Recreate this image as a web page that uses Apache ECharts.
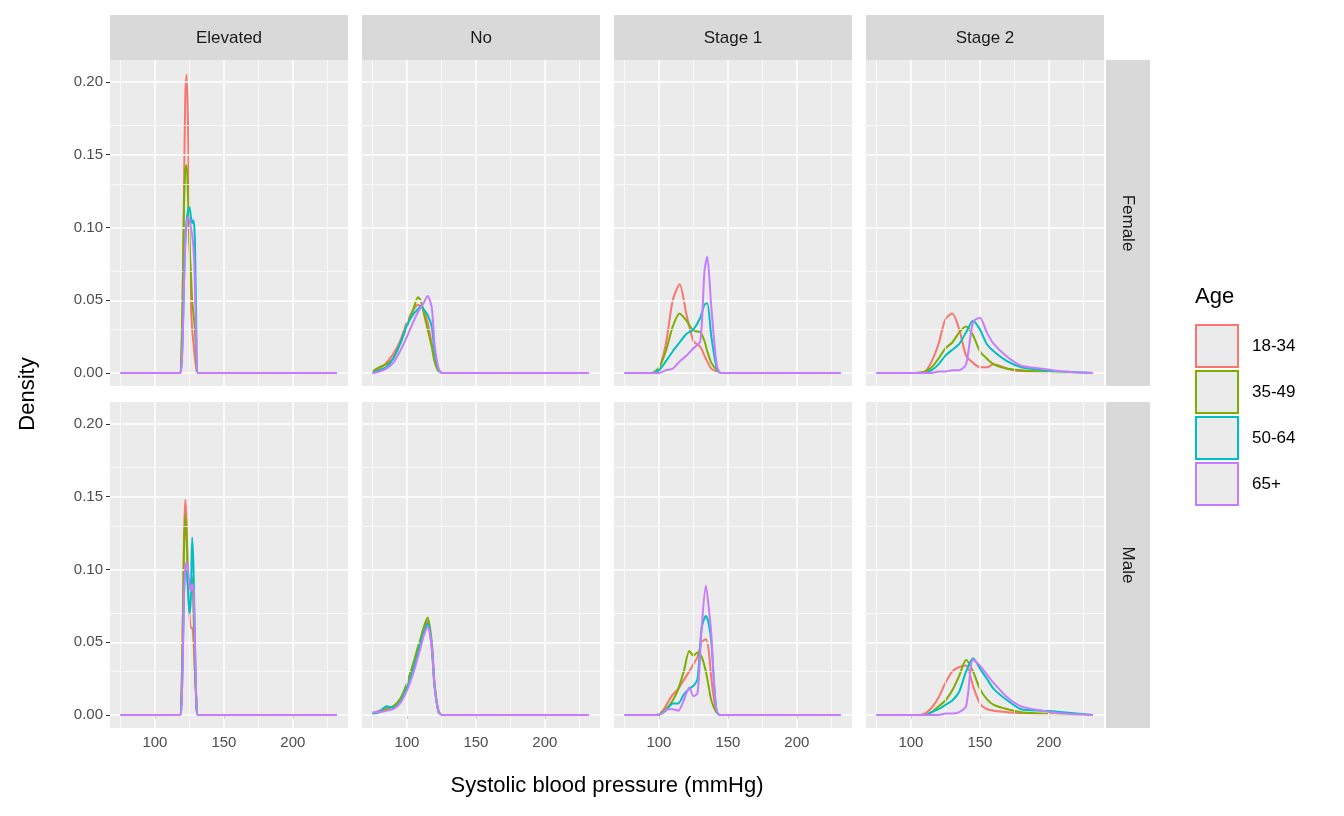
<!DOCTYPE html>
<html>
<head>
<meta charset="utf-8" />
<style>
  html, body { margin: 0; padding: 0; background: #fff; }
  #main { width: 1344px; height: 816px; }
</style>
</head>
<body>
<div id="main"></div>
<script src="https://cdn.jsdelivr.net/npm/echarts@6/dist/echarts.min.js"></script>
<script>
// ---- data ----
const ages = ['18-34', '35-49', '50-64', '65+'];
const colors = ['#F8766D', '#7CAE00', '#00BFC4', '#C77CFF'];
const statuses = ['Elevated', 'No', 'Stage 1', 'Stage 2'];
const sexes = ['Female', 'Male'];

const xElevated = [75, 118, 119, 120, 121, 122, 123, 124, 125, 126, 127, 128, 129, 130, 131, 232];
const femElevated = [
  [0, 0, 0.005, 0.04, 0.12, 0.19, 0.205, 0.17, 0.10, 0.05, 0.03, 0.02, 0.01, 0.003, 0, 0],
  [0, 0, 0.01, 0.05, 0.11, 0.14, 0.143, 0.12, 0.09, 0.07, 0.05, 0.04, 0.03, 0.01, 0, 0],
  [0, 0, 0.003, 0.02, 0.06, 0.09, 0.105, 0.112, 0.114, 0.108, 0.103, 0.105, 0.09, 0.03, 0, 0],
  [0, 0, 0.002, 0.02, 0.06, 0.09, 0.102, 0.107, 0.106, 0.10, 0.095, 0.085, 0.06, 0.02, 0, 0]
];
const maleElevated = [
  [0, 0, 0.005, 0.05, 0.12, 0.148, 0.13, 0.09, 0.07, 0.06, 0.06, 0.05, 0.03, 0.01, 0, 0],
  [0, 0, 0.008, 0.05, 0.11, 0.138, 0.12, 0.09, 0.08, 0.09, 0.095, 0.07, 0.03, 0.01, 0, 0],
  [0, 0, 0.004, 0.03, 0.08, 0.10, 0.098, 0.085, 0.07, 0.08, 0.122, 0.10, 0.05, 0.01, 0, 0],
  [0, 0, 0.003, 0.03, 0.08, 0.10, 0.105, 0.10, 0.09, 0.085, 0.09, 0.085, 0.05, 0.01, 0, 0]
];

const xNo = [75, 80, 85, 90, 95, 100, 105, 108, 110, 112, 115, 118, 120, 123, 126, 232];
const femNo = [
  [0.001, 0.003, 0.007, 0.013, 0.022, 0.035, 0.044, 0.047, 0.046, 0.044, 0.035, 0.02, 0.01, 0.002, 0, 0],
  [0.001, 0.004, 0.006, 0.01, 0.02, 0.032, 0.045, 0.052, 0.05, 0.042, 0.03, 0.018, 0.008, 0.001, 0, 0],
  [0, 0.002, 0.004, 0.01, 0.02, 0.033, 0.041, 0.044, 0.046, 0.044, 0.040, 0.032, 0.015, 0.002, 0, 0],
  [0, 0.001, 0.003, 0.007, 0.015, 0.025, 0.036, 0.042, 0.045, 0.048, 0.053, 0.045, 0.02, 0.003, 0, 0]
];
const maleNo = [
  [0.001, 0.003, 0.005, 0.006, 0.01, 0.02, 0.035, 0.045, 0.052, 0.058, 0.065, 0.045, 0.02, 0.002, 0, 0],
  [0.001, 0.002, 0.004, 0.006, 0.011, 0.022, 0.037, 0.047, 0.053, 0.06, 0.067, 0.05, 0.022, 0.002, 0, 0],
  [0.001, 0.002, 0.006, 0.005, 0.009, 0.019, 0.033, 0.043, 0.05, 0.056, 0.063, 0.048, 0.02, 0.002, 0, 0],
  [0.002, 0.002, 0.003, 0.004, 0.008, 0.017, 0.03, 0.04, 0.047, 0.054, 0.061, 0.047, 0.02, 0.002, 0, 0]
];

const xStage1F = [75, 95, 100, 105, 110, 115, 120, 125, 130, 133, 135, 138, 142, 145, 232];
const femStage1 = [
  [0, 0, 0.003, 0.02, 0.05, 0.061, 0.04, 0.022, 0.018, 0.012, 0.008, 0.003, 0.001, 0, 0],
  [0, 0, 0.004, 0.015, 0.032, 0.041, 0.036, 0.029, 0.028, 0.022, 0.015, 0.007, 0.002, 0, 0],
  [0, 0, 0.002, 0.008, 0.015, 0.021, 0.027, 0.030, 0.038, 0.047, 0.048, 0.025, 0.003, 0, 0],
  [0, 0, 0, 0.002, 0.003, 0.008, 0.012, 0.017, 0.022, 0.07, 0.08, 0.045, 0.005, 0, 0]
];
const xStage1M = [75, 98, 102, 106, 110, 114, 118, 122, 125, 128, 131, 134, 136, 138, 141, 144, 232];
const maleStage1 = [
  [0, 0, 0.002, 0.008, 0.014, 0.018, 0.024, 0.030, 0.035, 0.040, 0.050, 0.052, 0.045, 0.025, 0.005, 0, 0],
  [0, 0, 0.002, 0.005, 0.010, 0.018, 0.030, 0.044, 0.041, 0.043, 0.040, 0.030, 0.020, 0.010, 0.003, 0, 0],
  [0, 0, 0.001, 0.004, 0.008, 0.008, 0.014, 0.018, 0.020, 0.025, 0.060, 0.068, 0.063, 0.050, 0.010, 0, 0],
  [0, 0, 0.001, 0.004, 0.004, 0.003, 0.010, 0.019, 0.013, 0.015, 0.060, 0.089, 0.075, 0.055, 0.008, 0, 0]
];

const xStage2F = [75, 100, 110, 115, 120, 125, 130, 135, 140, 145, 150, 155, 160, 170, 180, 195, 210, 232];
const femStage2 = [
  [0, 0, 0.001, 0.008, 0.02, 0.037, 0.041, 0.030, 0.012, 0.007, 0.004, 0.004, 0.006, 0.003, 0.001, 0, 0, 0],
  [0, 0, 0.001, 0.004, 0.01, 0.017, 0.021, 0.028, 0.032, 0.026, 0.015, 0.010, 0.006, 0.003, 0.002, 0.001, 0, 0],
  [0, 0, 0, 0.002, 0.006, 0.012, 0.016, 0.020, 0.028, 0.036, 0.030, 0.020, 0.015, 0.008, 0.004, 0.002, 0.001, 0],
  [0, 0, 0, 0, 0.001, 0.001, 0.002, 0.002, 0.006, 0.035, 0.038, 0.028, 0.020, 0.011, 0.005, 0.003, 0.001, 0]
];
const xStage2M = [75, 105, 110, 115, 120, 125, 130, 135, 140, 145, 150, 155, 160, 170, 180, 195, 210, 232];
const maleStage2 = [
  [0, 0, 0.001, 0.005, 0.012, 0.022, 0.030, 0.033, 0.034, 0.020, 0.008, 0.004, 0.003, 0.002, 0.001, 0, 0, 0],
  [0, 0, 0, 0.002, 0.006, 0.010, 0.017, 0.027, 0.038, 0.030, 0.018, 0.011, 0.007, 0.004, 0.002, 0.001, 0, 0],
  [0, 0, 0, 0.002, 0.004, 0.007, 0.010, 0.016, 0.030, 0.039, 0.032, 0.025, 0.018, 0.010, 0.004, 0.003, 0.002, 0],
  [0, 0, 0, 0, 0, 0.001, 0.001, 0.002, 0.006, 0.038, 0.034, 0.028, 0.022, 0.012, 0.006, 0.003, 0.001, 0]
];

const majorX = [100, 150, 200];
const majorY = [0, 0.05, 0.10, 0.15, 0.20];
const minorX = [75, 125, 175, 225];
const minorY = [0.025, 0.075, 0.125, 0.175];

// panels: [row][col]
const panels = [
  [{ x: xElevated, ys: femElevated }, { x: xNo, ys: femNo }, { x: xStage1F, ys: femStage1 }, { x: xStage2F, ys: femStage2 }],
  [{ x: xElevated, ys: maleElevated }, { x: xNo, ys: maleNo }, { x: xStage1M, ys: maleStage1 }, { x: xStage2M, ys: maleStage2 }]
];

// ---- layout ----
const colLeft = [110, 362, 614, 866];
const panelW = 238;
const rowTop = [60, 402];
const panelH = 326;
const font = 'Liberation Sans';

const grids = [], xAxes = [], yAxes = [], series = [], graphics = [];
let gi = 0;
for (let r = 0; r < 2; r++) {
  for (let c = 0; c < 4; c++) {
    grids.push({ left: colLeft[c], top: rowTop[r], width: panelW, height: panelH,
      show: true, backgroundColor: '#ebebeb', borderWidth: 0 });
    xAxes.push({
      gridIndex: gi, type: 'value', min: 67.4, max: 240,
      axisLine: { show: false },
      axisTick: { show: r === 1, length: 4, customValues: majorX, lineStyle: { color: '#333' } },
      axisLabel: { show: r === 1, customValues: majorX, color: '#4d4d4d', fontSize: 15, fontFamily: font, margin: 7 },
      splitLine: { show: false }
    });
    yAxes.push({
      gridIndex: gi, type: 'value', min: -0.0089, max: 0.2151,
      axisLine: { show: false },
      axisTick: { show: c === 0, length: 4, customValues: majorY, lineStyle: { color: '#333' } },
      axisLabel: { show: c === 0, customValues: majorY, color: '#4d4d4d', fontSize: 15, fontFamily: font, margin: 7,
        formatter: v => v.toFixed(2) },
      splitLine: { show: false }
    });
    // grid lines, minor then major
    series.push({
      type: 'line', xAxisIndex: gi, yAxisIndex: gi, data: [], silent: true, z: 1,
      markLine: {
        silent: true, symbol: 'none', label: { show: false }, animation: false,
        lineStyle: { color: '#fff', width: 0.7, type: 'solid' },
        data: minorX.map(v => ({ xAxis: v })).concat(minorY.map(v => ({ yAxis: v })))
      }
    });
    series.push({
      type: 'line', xAxisIndex: gi, yAxisIndex: gi, data: [], silent: true, z: 2,
      markLine: {
        silent: true, symbol: 'none', label: { show: false }, animation: false,
        lineStyle: { color: '#fff', width: 1.5, type: 'solid' },
        data: majorX.map(v => ({ xAxis: v })).concat(majorY.map(v => ({ yAxis: v })))
      }
    });
    const p = panels[r][c];
    for (let k = 0; k < 4; k++) {
      series.push({
        name: ages[k], type: 'line', xAxisIndex: gi, yAxisIndex: gi,
        data: p.x.map((xv, i) => [xv, p.ys[k][i]]),
        showSymbol: false, smooth: 0.25, z: 3 + k,
        lineStyle: { color: colors[k], width: 2 }, itemStyle: { color: colors[k] }
      });
    }
    gi++;
  }
}

// strips
statuses.forEach((s, c) => {
  graphics.push({ type: 'rect', shape: { x: colLeft[c], y: 15, width: panelW, height: 45 }, style: { fill: '#d9d9d9' } });
  graphics.push({ type: 'text', x: colLeft[c] + panelW / 2, y: 38,
    style: { text: s, fill: '#1a1a1a', fontSize: 17, fontFamily: font, align: 'center', verticalAlign: 'middle' } });
});
sexes.forEach((s, r) => {
  graphics.push({ type: 'rect', shape: { x: 1106, y: rowTop[r], width: 44, height: panelH }, style: { fill: '#d9d9d9' } });
  graphics.push({ type: 'text', x: 1128, y: rowTop[r] + panelH / 2, rotation: -Math.PI / 2,
    style: { text: s, fill: '#1a1a1a', fontSize: 17, fontFamily: font, align: 'center', verticalAlign: 'middle' } });
});
// axis titles
graphics.push({ type: 'text', x: 607, y: 786,
  style: { text: 'Systolic blood pressure (mmHg)', fill: '#000', fontSize: 22, fontFamily: font, align: 'center', verticalAlign: 'middle' } });
graphics.push({ type: 'text', x: 28, y: 394, rotation: Math.PI / 2,
  style: { text: 'Density', fill: '#000', fontSize: 22, fontFamily: font, align: 'center', verticalAlign: 'middle' } });
// legend
graphics.push({ type: 'text', x: 1195, y: 297,
  style: { text: 'Age', fill: '#000', fontSize: 22, fontFamily: font, align: 'left', verticalAlign: 'middle' } });
ages.forEach((a, k) => {
  const y = 325 + k * 46;
  graphics.push({ type: 'rect', shape: { x: 1196, y: y, width: 42, height: 42 },
    style: { fill: '#ebebeb', stroke: colors[k], lineWidth: 2 } });
  graphics.push({ type: 'text', x: 1252, y: y + 21,
    style: { text: a, fill: '#000', fontSize: 17, fontFamily: font, align: 'left', verticalAlign: 'middle' } });
});

const chart = echarts.init(document.getElementById('main'));
chart.setOption({
  animation: false,
  grid: grids, xAxis: xAxes, yAxis: yAxes, series: series,
  graphic: graphics
});
</script>
</body>
</html>
